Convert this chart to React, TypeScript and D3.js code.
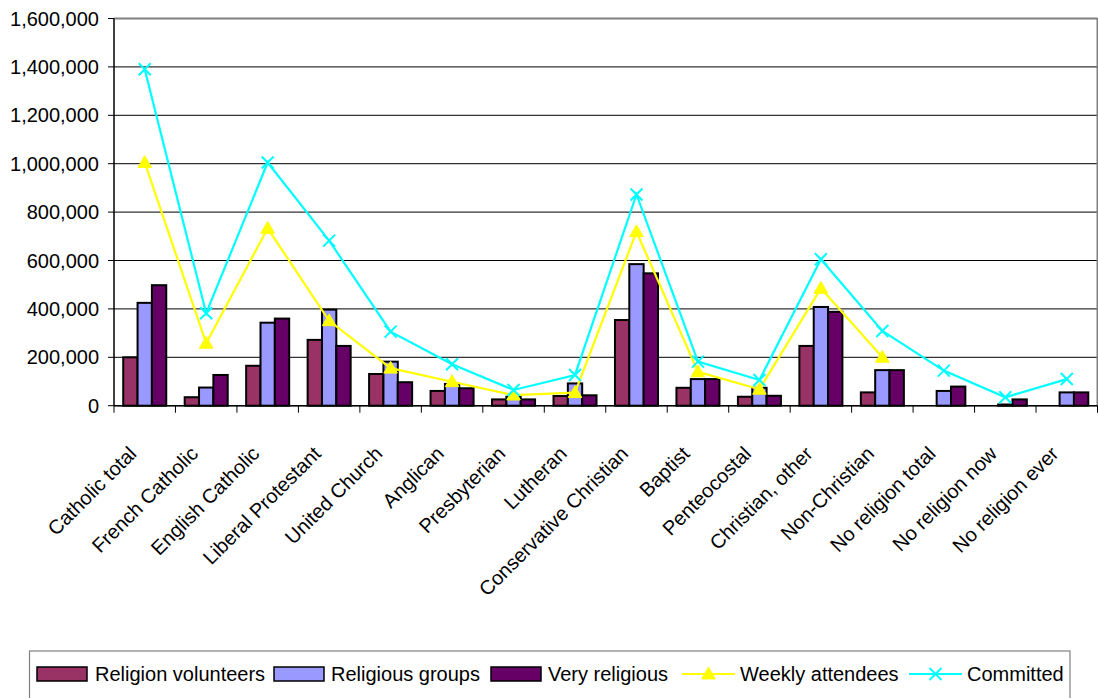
import React from "react";
import * as d3 from "d3";

const categories = [
  "Catholic total", "French Catholic", "English Catholic", "Liberal Protestant",
  "United Church", "Anglican", "Presbyterian", "Lutheran", "Conservative Christian",
  "Baptist", "Penteocostal", "Christian, other", "Non-Christian",
  "No religion total", "No religion now", "No religion ever",
];
const volunteers: (number | null)[] = [200000, 35000, 165000, 272000, 131000, 61000, 26000, 40000, 354000, 74000, 37000, 247000, 55000, null, null, null];
const groups: (number | null)[] = [425000, 75000, 343000, 397000, 182000, 90000, 37000, 92000, 585000, 110000, 74000, 408000, 147000, 61000, 5000, 55000];
const veryReligious: (number | null)[] = [498000, 127000, 360000, 247000, 97000, 72000, 26000, 43000, 547000, 110000, 41000, 388000, 147000, 79000, 26000, 55000];
const weekly: (number | null)[] = [1005000, 258000, 733000, 351000, 155000, 99000, 44000, 54000, 719000, 140000, 68000, 485000, 200000, null, null, null];
const committed: (number | null)[] = [1390000, 382000, 1005000, 682000, 306000, 171000, 65000, 127000, 873000, 182000, 106000, 605000, 309000, 145000, 35000, 110000];
const yTicks = [0, 200000, 400000, 600000, 800000, 1000000, 1200000, 1400000, 1600000];

const barSeries = [
  { name: "Religion volunteers", values: volunteers, color: "#993366" },
  { name: "Religious groups", values: groups, color: "#9999FF" },
  { name: "Very religious", values: veryReligious, color: "#660066" },
];
const lineSeries = [
  { name: "Weekly attendees", values: weekly, color: "#FFFF00", marker: "triangle" },
  { name: "Committed", values: committed, color: "#00FFFF", marker: "x" },
];

const W = 1098, H = 698;
const left = 114, right = 1097.5, top = 18.5, bottom = 405.7;
const font = "'Liberation Sans', Arial, sans-serif";

function Marker({ type, x, y, color }: { type: string; x: number; y: number; color: string }) {
  if (type === "triangle") {
    const p = d3.symbol(d3.symbolTriangle, 80)();
    return <path d={p || ""} transform={`translate(${x},${y + 1})`} fill={color} stroke={color} strokeWidth={1} />;
  }
  const s = 6;
  return (
    <path d={`M${x - s},${y - s}L${x + s},${y + s}M${x - s},${y + s}L${x + s},${y - s}`} stroke={color} strokeWidth={2} fill="none" />
  );
}

export default function App() {
  const x = d3.scaleBand<string>().domain(categories).range([left, right]).padding(0);
  const bw = x.bandwidth();
  const xi = d3.scaleBand<string>().domain(barSeries.map((s) => s.name)).range([bw * 0.15, bw * 0.85]).padding(0);
  const y = d3.scaleLinear().domain([0, 1600000]).range([bottom, top]);
  const fmt = d3.format(",");

  const line = d3.line<[number, number | null]>()
    .defined((d) => d[1] !== null)
    .x((d) => d[0])
    .y((d) => y(d[1] as number));

  const legendItems = [
    { kind: "bar", name: "Religion volunteers", color: "#993366", sx: 37, tx: 95 },
    { kind: "bar", name: "Religious groups", color: "#9999FF", sx: 274, tx: 331 },
    { kind: "bar", name: "Very religious", color: "#660066", sx: 491, tx: 548 },
    { kind: "line", name: "Weekly attendees", color: "#FFFF00", marker: "triangle", sx: 682, tx: 740 },
    { kind: "line", name: "Committed", color: "#00FFFF", marker: "x", sx: 909, tx: 967 },
  ];
  const ly = 674;

  return (
    <svg width={W} height={H} style={{ position: "absolute", left: 0, top: 0, background: "#fff" }} fontFamily={font}>
      {/* gridlines */}
      {yTicks.map((t) => (
        <line key={t} x1={left} x2={right} y1={y(t)} y2={y(t)} stroke="#000" strokeWidth={1} />
      ))}
      {/* plot border top/right */}
      <line x1={left} x2={right} y1={top} y2={top} stroke="#808080" strokeWidth={2} />
      <line x1={right} x2={right} y1={top} y2={bottom} stroke="#808080" strokeWidth={2} />
      {/* bars */}
      {barSeries.map((s) =>
        s.values.map((v, i) =>
          v === null ? null : (
            <rect key={s.name + i}
              x={(x(categories[i]) as number) + (xi(s.name) as number)}
              y={y(v)} width={xi.bandwidth()} height={bottom - y(v)}
              fill={s.color} stroke="#000" strokeWidth={2} />
          )
        )
      )}
      {/* axes */}
      <line x1={left} x2={left} y1={top} y2={bottom} stroke="#000" strokeWidth={1.5} />
      <line x1={left} x2={right} y1={bottom} y2={bottom} stroke="#000" strokeWidth={1.5} />
      {yTicks.map((t) => (
        <g key={"yt" + t}>
          <line x1={left - 6} x2={left} y1={y(t)} y2={y(t)} stroke="#000" strokeWidth={1} />
          <text x={99} y={y(t)} dy="0.35em" textAnchor="end" fontSize={20} fill="#000">{fmt(t)}</text>
        </g>
      ))}
      {categories.map((c, i) => (
        <line key={"xt" + i} x1={(x(c) as number)} x2={(x(c) as number)} y1={bottom} y2={bottom + 7} stroke="#000" strokeWidth={1} />
      ))}
      <line x1={right} x2={right} y1={bottom} y2={bottom + 7} stroke="#000" strokeWidth={1} />
      {categories.map((c) => {
        const cx = (x(c) as number) + bw / 2 - 7;
        const cy = 455;
        return (
          <text key={"xl" + c} x={cx} y={cy} transform={`rotate(-45,${cx},${cy})`} textAnchor="end" fontSize={20} fill="#000">{c}</text>
        );
      })}
      {/* lines */}
      {lineSeries.map((s) => {
        const pts: [number, number | null][] = s.values.map((v, i) => [(x(categories[i]) as number) + bw / 2, v]);
        return (
          <g key={s.name}>
            <path d={line(pts) || ""} fill="none" stroke={s.color} strokeWidth={2.2} />
            {pts.map((p, i) => p[1] === null ? null : (
              <Marker key={i} type={s.marker} x={p[0]} y={y(p[1] as number)} color={s.color} />
            ))}
          </g>
        );
      })}
      {/* legend */}
      <rect x={29.5} y={651} width={1040.5} height={70} fill="#fff" stroke="#808080" strokeWidth={1.2} />
      {legendItems.map((it) => (
        <g key={it.name}>
          {it.kind === "bar" ? (
            <rect x={it.sx} y={ly - 7} width={50} height={14} fill={it.color} stroke="#000" strokeWidth={1.5} />
          ) : (
            <g>
              <line x1={it.sx} x2={it.sx + 53} y1={ly} y2={ly} stroke={it.color} strokeWidth={2.2} />
              <Marker type={it.marker as string} x={it.sx + 26.5} y={ly} color={it.color} />
            </g>
          )}
          <text x={it.tx} y={ly} dy="0.35em" fontSize={20} fill="#000">{it.name}</text>
        </g>
      ))}
    </svg>
  );
}
